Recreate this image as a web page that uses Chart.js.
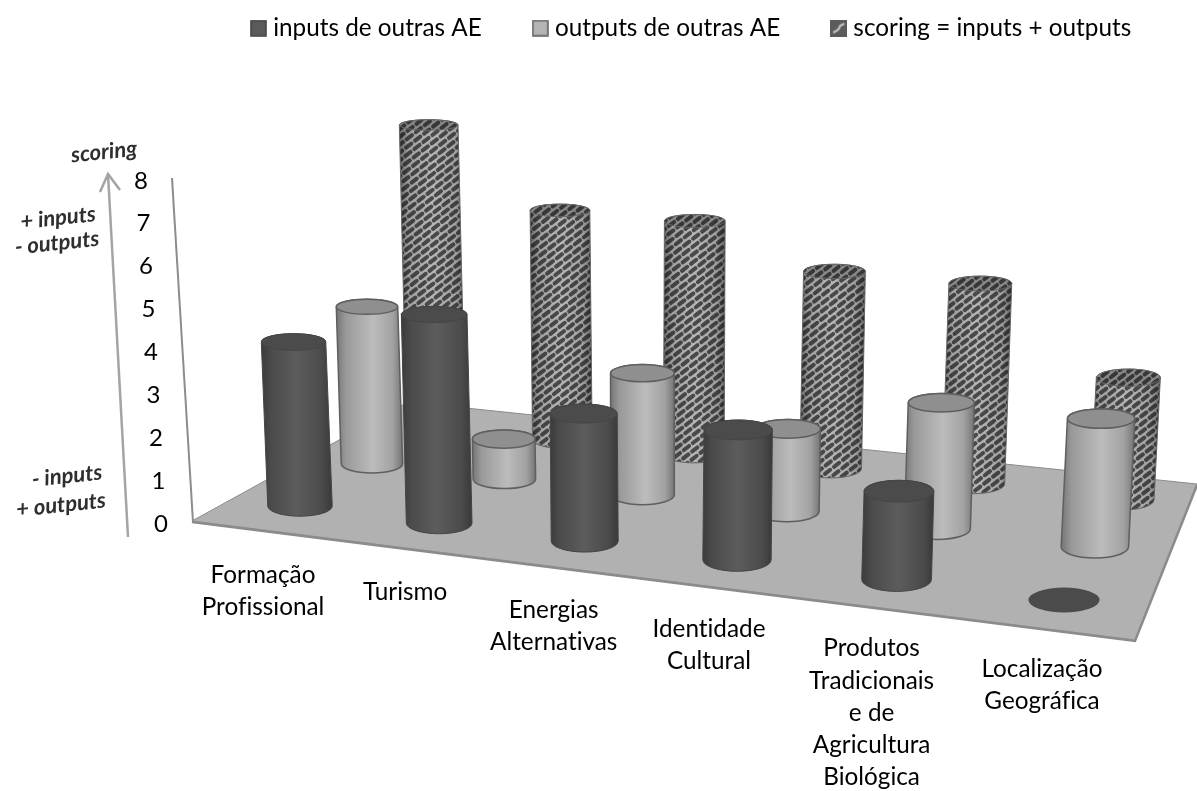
<!DOCTYPE html>
<html><head><meta charset="utf-8">
<style>html,body{margin:0;padding:0;background:#fff}canvas{display:block}</style>
<script src="https://cdn.jsdelivr.net/npm/chart.js@4"></script>
</head><body><canvas id="c" width="1197" height="791"></canvas>
<script>
const categories=[["Formação","Profissional"],["Turismo"],["Energias","Alternativas"],["Identidade","Cultural"],["Produtos","Tradicionais","e de","Agricultura","Biológica"],["Localização","Geográfica"]];
const seriesNames=["inputs de outras AE","outputs de outras AE","scoring = inputs + outputs"];
const inputs=[4,5,3,3,2,0];
const outputs=[4,1,3,2,3,3];
const scoring=[8,6,6,5,5,3];
const yTicksMax=8;

// perspective floor: category position u, series depth v → page
function quad(p0,p1,p2,p3){
  const sx=p0[0]-p1[0]+p2[0]-p3[0],sy=p0[1]-p1[1]+p2[1]-p3[1];
  const d1x=p1[0]-p2[0],d1y=p1[1]-p2[1],d2x=p3[0]-p2[0],d2y=p3[1]-p2[1];
  const det=d1x*d2y-d2x*d1y;
  const g=(sx*d2y-d2x*sy)/det,h=(d1x*sy-sx*d1y)/det;
  const a=p1[0]-p0[0]+g*p1[0],b=p3[0]-p0[0]+h*p3[0],c=p0[0];
  const d=p1[1]-p0[1]+g*p1[1],e=p3[1]-p0[1]+h*p3[1],f=p0[1];
  return (u,v)=>{const s=(u-.5)/5,t=(v-.5)/2,w=g*s+h*t+1;
    return [(a*s+b*t+c)/w,(d*s+e*t+f)/w];};
}
const project=quad([300,506],[1064,600],[1122,500],[436,426]);
const floorPoly=[[192,521],[1135,640],[1197,484],[408,402]];

function makePattern(){
  const t=document.createElement('canvas');t.width=1197;t.height=791;
  const x=t.getContext('2d');
  x.fillStyle='#b6b6b6';x.fillRect(0,0,1197,791);
  x.strokeStyle='#4a4a4a';x.lineWidth=4;x.lineCap='round';
  const a=[9,-7],b=[8.3,1.4];
  for(let i=-60;i<200;i++)for(let j=-60;j<200;j++){
    const cx=i*a[0]+j*b[0],cy=i*a[1]+j*b[1];
    if(cx<-20||cx>1220||cy<-20||cy>810)continue;
    x.beginPath();x.moveTo(cx-a[0]*.29,cy-a[1]*.29);x.lineTo(cx+a[0]*.29,cy+a[1]*.29);x.stroke();
  }
  return t;
}
const patTile=makePattern();
function swatch(kind){
  const t=document.createElement('canvas');t.width=17;t.height=17;
  const x=t.getContext('2d');
  if(kind===2){
    x.fillStyle='#5c5c5c';x.fillRect(0,0,17,17);
    x.strokeStyle='#c4c4c4';x.lineWidth=2.2;x.beginPath();x.moveTo(3,13);x.lineTo(8,10);x.lineTo(10,6);x.lineTo(14,4);x.stroke();
  }else{
    x.fillStyle=kind===0?'#5a5a5a':'#b4b4b4';x.fillRect(1,1,15,15);
    x.strokeStyle=kind===0?'#444':'#666';x.lineWidth=1.6;x.strokeRect(1,1,15,15);
  }
  return t;
}
const swatches=[swatch(0),swatch(1),swatch(2)];

const styles=[
 {stops:[[0,'#3b3b3b'],[.14,'#4b4b4b'],[.5,'#5c5c5c'],[.85,'#4b4b4b'],[1,'#393939']],top:'#4b4b4b',line:'#454545',lw:1},
 {stops:[[0,'#757575'],[.14,'#999'],[.55,'#bcbcbc'],[.85,'#a2a2a2'],[1,'#747474']],top:'#8f8f8f',line:'#5f5f5f',lw:1.5},
 {overlay:[[0,'rgba(0,0,0,.45)'],[.15,'rgba(0,0,0,.12)'],[.5,'rgba(0,0,0,0)'],[.85,'rgba(0,0,0,.12)'],[1,'rgba(0,0,0,.45)']],top:'rgba(0,0,0,.25)',line:'#666',lw:1}
];

function cylinder(ctx,u,v,s,unitH){
  const st=styles[s];
  const [bx,by]=project(u,v);
  const f=(37.4+(by-425)*.042)/42.75;
  const h=unitH*f;
  const rx=29.5+(by-430)*.036;
  const ratio=y=>.18+(y-125)*.00036;
  const ty=by-h;
  const tx=bx+(bx-655)*1.11e-4*h;
  const rb=rx*ratio(by), rt=rx*ratio(ty);
  if(h<.5){
    ctx.fillStyle=st.top;ctx.beginPath();ctx.ellipse(bx,by,rx,rb,0,0,Math.PI*2);ctx.fill();return;
  }
  const path=()=>{ctx.beginPath();ctx.moveTo(tx-rx,ty);ctx.lineTo(bx-rx,by);ctx.ellipse(bx,by,rx,rb,0,Math.PI,0,true);ctx.lineTo(tx+rx,ty);ctx.ellipse(tx,ty,rx,rt,0,0,Math.PI,true);ctx.closePath();};
  const grad=(stops)=>{const g=ctx.createLinearGradient(Math.min(bx,tx)-rx,0,Math.max(bx,tx)+rx,0);stops.forEach(p=>g.addColorStop(p[0],p[1]));return g;};
  path();
  if(s===2){
    ctx.fillStyle=ctx.createPattern(patTile,'repeat');ctx.fill();
    ctx.fillStyle=grad(st.overlay);ctx.fill();
  }else{ctx.fillStyle=grad(st.stops);ctx.fill();}
  ctx.strokeStyle=st.line;ctx.lineWidth=st.lw;ctx.stroke();
  ctx.beginPath();ctx.ellipse(tx,ty,rx,rt,0,0,Math.PI*2);
  if(s===2){ctx.fillStyle=ctx.createPattern(patTile,'repeat');ctx.fill();ctx.fillStyle=st.top;ctx.fill();}
  else{ctx.fillStyle=st.top;ctx.fill();}
  ctx.stroke();
}

const scene={
 id:'scene',
 beforeDatasetsDraw(chart){
  const ctx=chart.ctx,xs=chart.scales.x,ys=chart.scales.y;
  ctx.save();
  // floor
  ctx.beginPath();floorPoly.forEach((p,i)=>i?ctx.lineTo(p[0],p[1]):ctx.moveTo(p[0],p[1]));ctx.closePath();
  ctx.fillStyle='#b1b1b1';ctx.fill();
  ctx.strokeStyle='#8b8b8b';ctx.lineWidth=1;ctx.stroke();
  ctx.lineWidth=2.5;ctx.beginPath();ctx.moveTo(192,522);ctx.lineTo(1135,641);ctx.lineTo(1197,485);ctx.stroke();
  // wall line
  ctx.strokeStyle='#8c8c8c';ctx.lineWidth=2;ctx.beginPath();ctx.moveTo(172,178);ctx.lineTo(193,522);ctx.stroke();
  // arrow
  ctx.strokeStyle='#a4a4a4';ctx.lineWidth=2.5;
  ctx.beginPath();ctx.moveTo(128,537);ctx.lineTo(108,174);ctx.stroke();
  ctx.beginPath();ctx.moveTo(100,192);ctx.lineTo(108,174);ctx.lineTo(120,190);ctx.stroke();
  // rotated notes
  ctx.fillStyle='#2e2e2e';ctx.textAlign='center';ctx.textBaseline='middle';
  [["scoring",104,152],["+ inputs",58,218],["- outputs",57,243],["- inputs",67,476],["+ outputs",61,505]].forEach(n=>{
    ctx.save();ctx.translate(n[1],n[2]);ctx.rotate(-6*Math.PI/180);ctx.font='italic 700 22px Lato';ctx.fillText(n[0],0,0);ctx.restore();
  });
  // cylinders, far to near
  const items=[];
  chart.data.datasets.forEach((ds,s)=>ds.data.forEach((val,i)=>{
    const u=(xs.getPixelForValue(i)-xs.left)/xs.width*categories.length;
    items.push({u,v:s+.5,s,h:ys.getPixelForValue(0)-ys.getPixelForValue(val),by:project(u,s+.5)[1]});
  }));
  items.sort((a,b)=>a.by-b.by).forEach(it=>cylinder(ctx,it.u,it.v,it.s,it.h));
  ctx.restore();
  return false;
 },
 afterLayout(chart){
  const l=chart.legend;
  l.left=200;l.right=1197;l.top=-40;
  chart.ctx.textRendering='optimizeSpeed';
 }
};

function shift(fn){return function(scale){
  if(scale._wrapped)return;scale._wrapped=true;
  const o=scale._computeLabelItems;
  scale._computeLabelArea=()=>undefined;
  scale._computeLabelItems=function(ca){const items=o.call(this,ca);items.forEach((it,i)=>fn(it,i,this));return items;};
};}

new Chart(document.getElementById('c'),{
 type:'bar',
 data:{labels:categories,datasets:[
  {label:seriesNames[0],data:inputs,backgroundColor:'#555'},
  {label:seriesNames[1],data:outputs,backgroundColor:'#b4b4b4'},
  {label:seriesNames[2],data:scoring,backgroundColor:'#777'}]},
 plugins:[scene],
 options:{
  responsive:false,animation:false,devicePixelRatio:1,
  layout:{padding:{top:88,left:151,right:0,bottom:269}},
  plugins:{tooltip:{enabled:false},title:{display:false},
   legend:{display:true,position:'top',align:'start',
    labels:{font:{family:'Lato',size:24.3},color:'#000',padding:56,usePointStyle:true,pointStyleWidth:5,
     generateLabels:c=>c.data.datasets.map((d,i)=>({text:d.label,pointStyle:swatches[i],datasetIndex:i,lineWidth:0,fontColor:'#000',hidden:false}))}}},
  scales:{
   y:{min:0,max:yTicksMax,grid:{display:false,drawTicks:false},border:{display:false},
     ticks:{stepSize:1,padding:3,color:'#000',font:{family:'Lato',size:24}},
     afterFit:shift((it,i,sc)=>{it.options.translation[0]+=-sc.ticks[i].value*2.5;it.options.translation[1]+=2.5;})},
   x:{grid:{display:false,drawTicks:false},border:{display:false},
     ticks:{autoSkip:false,maxRotation:0,minRotation:0,color:'#000',padding:0,font:{family:'Lato',size:24.3,lineHeight:1.32}},
     afterFit:function(sc){sc.height=0;shift((it,i,s)=>{const u=(s.getPixelForValue(i)-s.left)/s.width*categories.length;const p=project(u,.5);it.options.translation=[p[0]-37+15*(u-.5)/5,p[1]+41];it.options.textAlign='center';it.options.textBaseline='top';})(sc);}}
  }
 }
});
</script></body></html>
